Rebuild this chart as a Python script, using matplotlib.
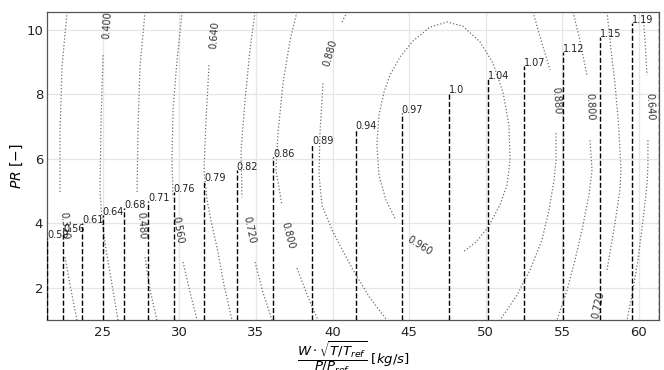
import matplotlib
matplotlib.use("Agg")
import matplotlib.pyplot as plt

# ---------------- data ----------------
PR_MIN = 1.0
PR_MAX = 10.56

# speed lines (corrected mass flow position, top PR, label)
speed_x = [21.38, 22.43, 23.67, 25.00, 26.41, 27.98, 29.63, 31.63, 33.75, 36.13,
           38.68, 41.51, 44.52, 47.62, 50.13, 52.52, 55.02, 57.48, 59.55, 61.31]
speed_top = [3.54, 3.73, 4.01, 4.25, 4.47, 4.69, 4.97, 5.31, 5.65, 6.06,
             6.46, 6.93, 7.42, 8.04, 8.48, 8.88, 9.32, 9.78, 10.22, 10.60]
speed_labels = ["0.59", "0.56", "0.61", "0.64", "0.68", "0.71", "0.76", "0.79", "0.82",
                "0.86", "0.89", "0.94", "0.97", "1.0", "1.04", "1.07", "1.12", "1.15", "1.19"]

# efficiency iso-lines (segments)
eta_320_x = [[22.67, 22.34, 22.21, 22.21], [22.54, 22.87, 23.32]]
eta_320_pr = [[10.56, 8.85, 6.80, 4.97], [2.95, 2.08, 0.99]]

eta_400_x = [[25.02, 24.89, 24.82, 24.95, 25.22, 25.61, 26.00]]
eta_400_pr = [[9.22, 7.20, 5.03, 4.10, 3.17, 2.08, 0.99]]

eta_480_x = [[27.76, 27.43, 27.30, 27.24], [27.76, 28.09, 28.54]]
eta_480_pr = [[10.56, 8.85, 6.89, 4.97], [2.95, 1.93, 0.99]]

eta_560_x = [[30.18, 29.85, 29.59, 29.52, 29.59], [30.24, 30.70, 31.16]]
eta_560_pr = [[10.56, 9.07, 7.52, 5.96, 4.81], [2.80, 1.86, 0.99]]

eta_640_x = [[31.94, 31.74, 31.61, 31.81, 32.13, 32.46, 32.92, 33.44],
             [60.27, 60.40, 60.53],
             [60.59, 60.59, 60.53, 60.27, 59.94, 59.55, 59.22]]
eta_640_pr = [[8.91, 7.20, 5.65, 4.72, 3.94, 3.26, 2.08, 0.99],
              [10.56, 9.69, 8.60],
              [6.58, 5.81, 5.19, 4.10, 2.86, 1.77, 0.99]]

eta_720_x = [[34.94, 34.61, 34.29, 34.03, 34.09], [34.94, 35.46, 36.05],
             [57.92, 58.18, 58.44, 58.70, 58.83, 58.76, 58.44, 57.92]]
eta_720_pr = [[10.56, 9.38, 7.83, 6.27, 4.81], [2.80, 1.86, 0.99],
              [10.56, 9.38, 8.35, 6.89, 5.65, 5.03, 4.01, 2.55]]

eta_800_x = [[37.68, 37.23, 36.77, 36.44, 36.31, 36.70], [37.68, 38.33, 39.05],
             [55.70, 56.15, 56.61],
             [56.81, 56.94, 56.74, 56.35, 55.83, 55.31, 54.65]]
eta_800_pr = [[10.56, 9.69, 8.35, 6.80, 5.65, 4.57], [2.61, 1.80, 0.99],
              [10.56, 9.69, 8.60],
              [6.58, 5.65, 4.88, 3.94, 2.86, 1.93, 0.99]]

eta_880_x = [[40.62, 40.95],
             [39.38, 39.18, 39.12, 39.31, 40.03, 41.34, 42.45, 43.56],
             [53.09, 53.61, 54.20],
             [54.59, 54.59, 54.46, 54.13, 53.67, 52.89, 52.04, 50.93]]
eta_880_pr = [[10.25, 10.56],
              [8.35, 6.80, 5.50, 4.57, 3.73, 2.55, 1.68, 0.99],
              [10.56, 9.69, 8.76],
              [6.80, 5.96, 5.34, 4.41, 3.48, 2.55, 1.77, 0.99]]

eta_960_x = [[44.08, 43.49, 43.03, 42.90, 43.03, 43.36, 43.75, 44.40, 45.25, 46.36, 47.47,
              48.52, 49.63, 50.47, 51.13, 51.52, 51.59, 51.39, 50.93, 50.15, 49.37, 48.52]]
eta_960_pr = [[4.16, 4.72, 5.50, 6.43, 7.36, 8.07, 8.60, 9.16, 9.66, 10.09, 10.25,
               10.12, 9.63, 8.98, 8.07, 7.05, 5.96, 5.19, 4.57, 3.88, 3.42, 3.11]]

# inline labels of the efficiency iso-lines
eta_label_text = ["0.320", "0.400", "0.480", "0.560", "0.640", "0.720", "0.800", "0.880",
                  "0.960", "0.880", "0.800", "0.720", "0.640"]
eta_label_x = [22.47, 25.28, 27.50, 29.92, 32.27, 34.55, 37.09, 39.84,
               45.71, 54.59, 56.81, 57.33, 60.72]
eta_label_pr = [3.94, 10.16, 3.94, 3.79, 9.84, 3.79, 3.63, 9.29,
                3.32, 7.80, 7.61, 1.46, 7.61]
eta_label_rot = [-86, 86, -86, -80, 85, -78, -75, 74, -32, -86, -88, 78, -88]

# ---------------- figure ----------------
fig = plt.figure(figsize=(6.64, 3.70), dpi=100)
ax = fig.add_axes([0.0712, 0.1351, 0.9212, 0.8324])

contour_color = "#6e6e6e"
for xs_list, ps_list in [(eta_320_x, eta_320_pr), (eta_400_x, eta_400_pr),
                         (eta_480_x, eta_480_pr), (eta_560_x, eta_560_pr),
                         (eta_640_x, eta_640_pr), (eta_720_x, eta_720_pr),
                         (eta_800_x, eta_800_pr), (eta_880_x, eta_880_pr),
                         (eta_960_x, eta_960_pr)]:
    for xs, ps in zip(xs_list, ps_list):
        ax.plot(xs, ps, linestyle=":", color=contour_color, linewidth=0.9, zorder=2)

for t, x, p, r in zip(eta_label_text, eta_label_x, eta_label_pr, eta_label_rot):
    ax.text(x, p, t, fontsize=7, color="#333333", rotation=r,
            ha="center", va="center", rotation_mode="anchor", zorder=3)

ax.vlines(speed_x, PR_MIN, speed_top, colors="black", linestyles="--",
          linewidth=1.0, zorder=4)
for x, top, lab in zip(speed_x, speed_top, speed_labels):
    ax.text(x, top, lab, fontsize=7, color="#222222", ha="left", va="baseline", zorder=5)

ax.set_xlim(speed_x[0], speed_x[-1])
ax.set_ylim(PR_MIN, PR_MAX)

ax.grid(True, color="#e6e6e6", linewidth=0.9)
ax.set_axisbelow(True)
for s in ax.spines.values():
    s.set_color("#555555")
    s.set_linewidth(0.9)

ax.tick_params(axis="both", length=0, labelsize=9.5, colors="#222222")
ax.tick_params(axis="x", pad=4)
ax.tick_params(axis="y", pad=3)

ax.set_xlabel(r"$\dfrac{W\cdot\sqrt{T/T_{ref}}}{P/P_{ref}}\ [kg/s]$", fontsize=9.5, labelpad=1)
ax.set_ylabel(r"$PR\ [-]$", fontsize=10, labelpad=1)

fig.savefig("out.png", dpi=100)
